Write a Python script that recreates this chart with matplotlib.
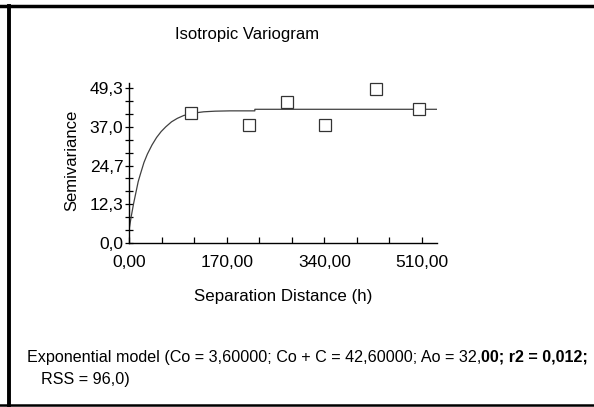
import matplotlib.pyplot as plt
from matplotlib.lines import Line2D
from matplotlib.ticker import MultipleLocator

plt.rcParams['font.family'] = ['Liberation Sans', 'DejaVu Sans']

lag = [108, 209, 275, 341, 429, 505]
semivariance = [41.3, 37.6, 44.8, 37.6, 49.1, 42.7]

# fitted exponential model curve as drawn
model_h = [0, 4, 8, 12, 16, 20, 26, 32, 40, 48, 56, 64, 74, 84, 95, 109,
           130, 150, 176, 219, 219, 536]
model_g = [4.0, 8.5, 12.5, 16.0, 19.5, 22.0, 25.6, 28.3, 31.2, 33.6, 35.5, 37.0,
           38.6, 39.7, 40.6, 41.3, 41.8, 42.0, 42.1, 42.1, 42.6, 42.6]

x_ticks = [0, 170, 340, 510]
x_labels = ['0,00', '170,00', '340,00', '510,00']
y_ticks = [0, 12.325, 24.65, 36.975, 49.3]
y_labels = ['0,0', '12,3', '24,7', '37,0', '49,3']

W, H = 594, 407
fig = plt.figure(figsize=(W / 100, H / 100), dpi=100)

ax = fig.add_axes([129 / W, 1 - 242.7 / H, (437 - 129) / W, (242.7 - 83.3) / H])
ax.plot(model_h, model_g, color='#404040', lw=0.9, zorder=2)
ax.plot(lag, semivariance, ls='none', marker='s', ms=8.5, mfc='white',
        mec='#333333', mew=0.9, zorder=3, clip_on=False)

ax.set_xlim(0, 536)
ax.set_ylim(0, 50.9)
ax.set_xticks(x_ticks)
ax.set_xticklabels(x_labels)
ax.set_yticks(y_ticks)
ax.set_yticklabels(y_labels)
ax.xaxis.set_minor_locator(MultipleLocator(170 / 3))
ax.yaxis.set_minor_locator(MultipleLocator(49.3 / 12))

for side in ['top', 'right']:
    ax.spines[side].set_visible(False)
for side in ['left', 'bottom']:
    ax.spines[side].set_linewidth(1.0)
    ax.spines[side].set_color('black')

ax.tick_params(axis='y', which='both', direction='inout', length=6, width=0.9,
               labelsize=12.5, pad=1)
ax.tick_params(axis='x', which='both', direction='in', length=4, width=0.9,
               labelsize=12.5, pad=9)

fig.text(247 / W, 1 - 35 / H, 'Isotropic Variogram', ha='center', va='center', fontsize=12)
fig.text(72 / W, 1 - 160 / H, 'Semivariance', ha='center', va='center',
         rotation=90, fontsize=12)
fig.text(283.5 / W, 1 - 296 / H, 'Separation Distance (h)', ha='center', va='center',
         fontsize=12.2)

t1 = fig.text(27 / W, 1 - 362 / H,
              'Exponential model (Co = 3,60000; Co + C = 42,60000; Ao = 32,',
              ha='left', va='baseline', fontsize=11.6)
ax.annotate('00; r2 = 0,012;', xy=(1, 0), xycoords=t1, xytext=(0, 0),
            textcoords='offset points', ha='left', va='bottom', fontsize=11.6,
            fontweight='bold', annotation_clip=False)
fig.text(41 / W, 1 - 384 / H, 'RSS = 96,0)', ha='left', va='baseline', fontsize=11.6)

# frame lines around the panel
fig.add_artist(Line2D([0, 1], [1 - 5.5 / H, 1 - 5.5 / H], color='black', lw=2.5,
                      transform=fig.transFigure))
fig.add_artist(Line2D([9 / W, 9 / W], [1 - 5.5 / H, 1 - 404.5 / H], color='black', lw=2.8,
                      transform=fig.transFigure))
fig.add_artist(Line2D([0, 1], [1 - 404.5 / H, 1 - 404.5 / H], color='black', lw=1.8,
                      transform=fig.transFigure))

fig.savefig('out.png', dpi=100)
